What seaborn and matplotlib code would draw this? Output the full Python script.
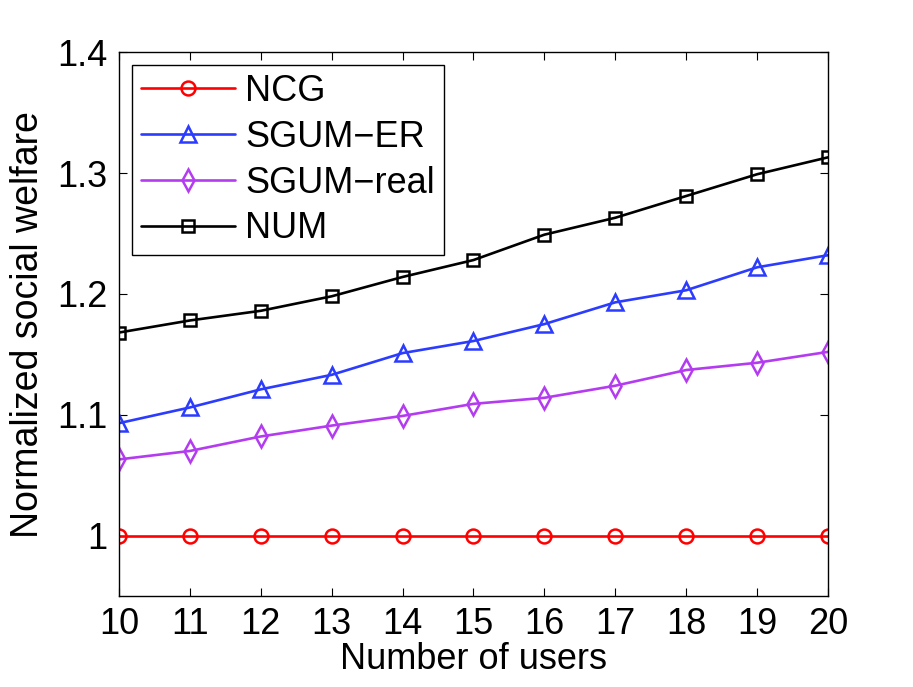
import numpy as np
import pandas as pd
import matplotlib
matplotlib.use("Agg")
import matplotlib.pyplot as plt
import seaborn as sns

# data
users = [10, 11, 12, 13, 14, 15, 16, 17, 18, 19, 20]
ncg = [1.0, 1.0, 1.0, 1.0, 1.0, 1.0, 1.0, 1.0, 1.0, 1.0, 1.0]
sgum_er = [1.093, 1.106, 1.121, 1.133, 1.151, 1.161, 1.175, 1.193, 1.203, 1.222, 1.232]
sgum_real = [1.063, 1.070, 1.082, 1.091, 1.099, 1.109, 1.114, 1.124, 1.137, 1.143, 1.152]
num = [1.168, 1.178, 1.186, 1.198, 1.214, 1.228, 1.249, 1.263, 1.281, 1.299, 1.313]

sns.set_style("ticks", {"text.color": "black", "axes.labelcolor": "black",
                        "xtick.color": "black", "ytick.color": "black",
                        "axes.edgecolor": "black"})
plt.rcParams['font.family'] = ['Liberation Sans', 'DejaVu Sans']

fig = plt.figure(figsize=(9.13, 6.87), dpi=100)
ax = fig.add_axes([0.1303, 0.1325, 0.7766, 0.7915])

series = [
    ("NCG", ncg, "#ff0000", "o", 10),
    ("SGUM\u2212ER", sgum_er, "#2b3cff", "^", 11),
    ("SGUM\u2212real", sgum_real, "#b43cf0", "d", 11),
    ("NUM", num, "#000000", "s", 8.5),
]

for name, vals, col, mk, ms in series:
    sns.lineplot(x=users, y=vals, ax=ax, color=col, marker=mk, markersize=ms,
                 markerfacecolor="none", markeredgecolor=col, markeredgewidth=1.8,
                 linewidth=1.9, label=name)

ax.set_xlim(10, 20)
ax.set_ylim(0.95, 1.4)
ax.set_xticks(users)
ax.set_yticks([1.0, 1.1, 1.2, 1.3, 1.4])
ax.set_yticklabels(["1", "1.1", "1.2", "1.3", "1.4"])
ax.tick_params(direction="in", top=True, right=True, length=6, width=0.8,
               labelsize=26, pad=8, colors="black")
for sp in ax.spines.values():
    sp.set_visible(True)
    sp.set_linewidth(1.0)
    sp.set_color("black")

ax.set_xlabel("Number of users", fontsize=26, labelpad=0, color="black")
ax.set_ylabel("Normalized social welfare", fontsize=27, labelpad=8, color="black")

leg = ax.legend(loc="upper left", fontsize=26, frameon=True, fancybox=False,
                edgecolor="black", framealpha=1, handlelength=2.6,
                borderaxespad=0.35, borderpad=0.25, labelspacing=0.3,
                handletextpad=0.3)
leg.get_frame().set_linewidth(1.0)
for t in leg.get_texts():
    t.set_color("black")

fig.savefig("out.png", dpi=100)
